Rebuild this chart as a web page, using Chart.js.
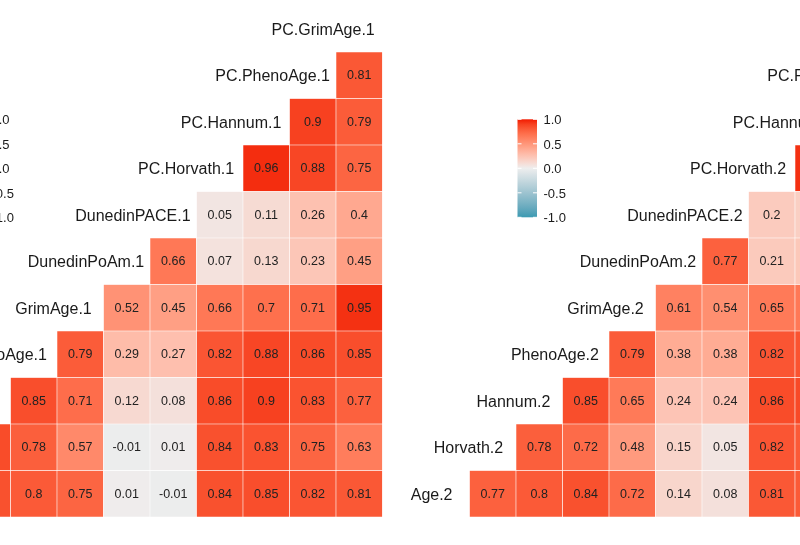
<!DOCTYPE html>
<html>
<head>
<meta charset="utf-8">
<script src="https://cdn.jsdelivr.net/npm/chart.js@4.4.1/dist/chart.umd.min.js"></script>
<style>
html, body { margin: 0; padding: 0; background: #fff; }
body { width: 800px; height: 545px; overflow: hidden; position: relative; }
canvas { position: absolute; top: 0; }
#left { left: -190px; }
#right { left: 362px; }
</style>
</head>
<body>
<canvas id="left" width="600" height="545"></canvas>
<canvas id="right" width="600" height="545"></canvas>
<script>
// variables, in plotting order (Age at the bottom / left)
const VARS = ['Age', 'Horvath', 'Hannum', 'PhenoAge', 'GrimAge', 'DunedinPoAm',
  'DunedinPACE', 'PC.Horvath', 'PC.Hannum', 'PC.PhenoAge', 'PC.GrimAge'];
const LEGEND_BREAKS = [1.0, 0.5, 0.0, -0.5, -1.0];
const LEGEND_LABELS = ['1.0', '0.5', '0.0', '-0.5', '-1.0'];

// set 1: correlation of each variable with the variables that follow it
const age1 = [0.86, 0.84, 0.8, 0.75, 0.01, -0.01, 0.84, 0.85, 0.82, 0.81];
const horvath1 = [0.86, 0.78, 0.57, -0.01, 0.01, 0.84, 0.83, 0.75, 0.63];
const hannum1 = [0.85, 0.71, 0.12, 0.08, 0.86, 0.9, 0.83, 0.77];
const pheno1 = [0.79, 0.29, 0.27, 0.82, 0.88, 0.86, 0.85];
const grim1 = [0.52, 0.45, 0.66, 0.7, 0.71, 0.95];
const poam1 = [0.66, 0.07, 0.13, 0.23, 0.45];
const pace1 = [0.05, 0.11, 0.26, 0.4];
const pcHorvath1 = [0.96, 0.88, 0.75];
const pcHannum1 = [0.9, 0.79];
const pcPheno1 = [0.81];
const pcGrim1 = [];

// set 2
const age2 = [0.77, 0.8, 0.84, 0.72, 0.14, 0.08, 0.81, 0.8, 0.79, 0.78];
const horvath2 = [0.78, 0.72, 0.48, 0.15, 0.05, 0.82, 0.8, 0.76, 0.66];
const hannum2 = [0.85, 0.65, 0.24, 0.24, 0.86, 0.87, 0.84, 0.78];
const pheno2 = [0.79, 0.38, 0.38, 0.82, 0.83, 0.86, 0.85];
const grim2 = [0.61, 0.54, 0.65, 0.66, 0.7, 0.94];
const poam2 = [0.77, 0.21, 0.22, 0.3, 0.52];
const pace2 = [0.2, 0.18, 0.3, 0.45];
const pcHorvath2 = [0.95, 0.88, 0.77];
const pcHannum2 = [0.9, 0.8];
const pcPheno2 = [0.82];
const pcGrim2 = [];

const rows1 = [age1, horvath1, hannum1, pheno1, grim1, poam1, pace1, pcHorvath1, pcHannum1, pcPheno1, pcGrim1];
const rows2 = [age2, horvath2, hannum2, pheno2, grim2, poam2, pace2, pcHorvath2, pcHannum2, pcPheno2, pcGrim2];

// diverging fill, interpolated in Lab like ggplot's gradient2
const LOW = '#3B9AB2', MID = '#EEEEEE', HIGH = '#F21A00';
const WX = 0.95047, WY = 1, WZ = 1.08883;
function toLin(c) { c /= 255; return c <= 0.04045 ? c / 12.92 : Math.pow((c + 0.055) / 1.055, 2.4); }
function fromLin(c) {
  const v = c <= 0.0031308 ? 12.92 * c : 1.055 * Math.pow(c, 1 / 2.4) - 0.055;
  return Math.round(Math.max(0, Math.min(1, v)) * 255);
}
function hexToLab(hex) {
  const r = toLin(parseInt(hex.slice(1, 3), 16));
  const g = toLin(parseInt(hex.slice(3, 5), 16));
  const b = toLin(parseInt(hex.slice(5, 7), 16));
  const x = (r * 0.4124564 + g * 0.3575761 + b * 0.1804375) / WX;
  const y = (r * 0.2126729 + g * 0.7151522 + b * 0.0721750) / WY;
  const z = (r * 0.0193339 + g * 0.1191920 + b * 0.9503041) / WZ;
  const f = t => t > 0.008856 ? Math.cbrt(t) : 7.787 * t + 16 / 116;
  const fx = f(x), fy = f(y), fz = f(z);
  return [116 * fy - 16, 500 * (fx - fy), 200 * (fy - fz)];
}
function labToRgb(lab) {
  const fy = (lab[0] + 16) / 116, fx = fy + lab[1] / 500, fz = fy - lab[2] / 200;
  const inv = t => t * t * t > 0.008856 ? t * t * t : (t - 16 / 116) / 7.787;
  const x = inv(fx) * WX, y = inv(fy) * WY, z = inv(fz) * WZ;
  const r = 3.2404542 * x - 1.5371385 * y - 0.4985314 * z;
  const g = -0.9692660 * x + 1.8760108 * y + 0.0415560 * z;
  const b = 0.0556434 * x - 0.2040259 * y + 1.0572252 * z;
  return 'rgb(' + fromLin(r) + ',' + fromLin(g) + ',' + fromLin(b) + ')';
}
const labLow = hexToLab(LOW), labMid = hexToLab(MID), labHigh = hexToLab(HIGH);
function fillFor(v) {
  v = Math.max(-1, Math.min(1, v));
  const a = v < 0 ? labLow : labMid;
  const b = v < 0 ? labMid : labHigh;
  const f = v < 0 ? v + 1 : v;
  return labToRgb([0, 1, 2].map(k => a[k] + (b[k] - a[k]) * f));
}

// one floating-bar dataset per row: a cell for every later variable
function makeDatasets(rows) {
  return rows.map((vals, i) => ({
    label: VARS[i],
    data: VARS.map((_, j) => j > i ? [i - 0.5, i + 0.5] : null),
    corr: VARS.map((_, j) => j > i ? vals[j - i - 1] : null),
    backgroundColor: c => {
      const v = c.dataset.corr[c.dataIndex];
      return v == null ? 'rgba(0,0,0,0)' : fillFor(v);
    },
    borderColor: 'rgba(255,255,255,0.85)',
    borderWidth: 0.6,
    borderSkipped: false,
    grouped: false,
    barPercentage: 1,
    categoryPercentage: 1
  }));
}

const FONT = '"Liberation Sans", Arial, sans-serif';

const cellText = {
  id: 'cellText',
  afterDatasetsDraw(chart, args, opts) {
    const ctx = chart.ctx, xs = chart.scales.x, ys = chart.scales.y, area = chart.chartArea;
    ctx.save();
    // coefficients
    ctx.font = '12.5px ' + FONT;
    ctx.fillStyle = '#222';
    ctx.textAlign = 'center';
    ctx.textBaseline = 'middle';
    chart.data.datasets.forEach((ds, i) => {
      chart.getDatasetMeta(i).data.forEach((bar, j) => {
        const v = ds.corr[j];
        if (v == null) return;
        ctx.fillText(String(v), bar.x, (bar.y + bar.base) / 2 + 0.5);
      });
    });
    // variable names on the diagonal (hjust 0.85)
    ctx.font = '16px ' + FONT;
    ctx.fillStyle = '#1a1a1a';
    ctx.textAlign = 'left';
    VARS.forEach((name, i) => {
      const label = name + opts.suffix;
      const w = ctx.measureText(label).width;
      ctx.fillText(label, xs.getPixelForValue(i) - 0.85 * w, ys.getPixelForValue(i) + 1.5);
    });
    // colour bar
    const bx = area.left + 94.5, bw = 19.5, by = area.top + 113.8, bh = 98;
    const grad = ctx.createLinearGradient(0, by, 0, by + bh);
    for (let k = 0; k <= 20; k++) grad.addColorStop(k / 20, fillFor(1 - k / 10));
    ctx.fillStyle = grad;
    ctx.fillRect(bx, by, bw, bh);
    ctx.strokeStyle = '#fff';
    ctx.lineWidth = 1;
    ctx.font = '13px ' + FONT;
    ctx.fillStyle = '#1a1a1a';
    LEGEND_BREAKS.forEach((v, k) => {
      const ty = by + (1 - v) / 2 * bh;
      ctx.beginPath();
      ctx.moveTo(bx, ty); ctx.lineTo(bx + 4, ty);
      ctx.moveTo(bx + bw - 4, ty); ctx.lineTo(bx + bw, ty);
      ctx.stroke();
      ctx.fillText(LEGEND_LABELS[k], bx + 26, ty + 1.5);
    });
    ctx.restore();
  }
};

function makeChart(id, rows, suffix) {
  return new Chart(document.getElementById(id), {
    type: 'bar',
    data: { labels: VARS.map(v => v + suffix), datasets: makeDatasets(rows) },
    options: {
      responsive: false,
      animation: false,
      events: [],
      layout: { padding: { left: 61, right: 27.5, top: 5.5, bottom: 28 } },
      plugins: {
        legend: { display: false },
        tooltip: { enabled: false },
        cellText: { suffix: suffix }
      },
      scales: {
        x: { display: false, offset: true },
        y: { display: false, min: -0.5, max: 10.5 }
      }
    },
    plugins: [cellText]
  });
}

makeChart('left', rows1, '.1');
makeChart('right', rows2, '.2');
</script>
</body>
</html>
